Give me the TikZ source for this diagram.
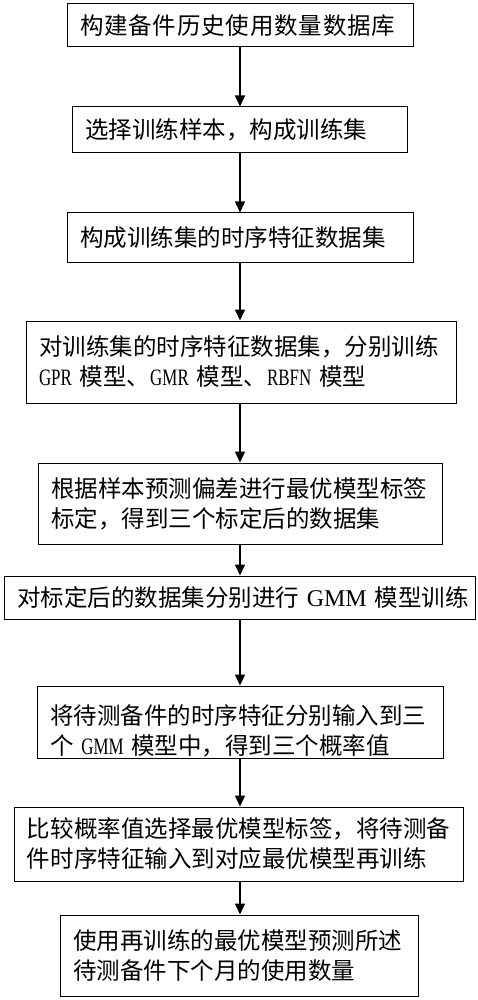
\documentclass[tikz,border=0pt]{standalone}
\usepackage{fontspec}
\setmainfont{Liberation Serif}
\newfontfamily\cjk{Noto Sans CJK SC}
\usetikzlibrary{arrows.meta}
\newcommand\lat[1]{{\rmfamily\fontsize{23.5}{30}\selectfont\scalebox{0.72}[1]{#1}}}
\newcommand\latw[1]{{\rmfamily\fontsize{24}{30}\selectfont #1}}
\begin{document}
\begin{tikzpicture}[x=1pt,y=-1pt,
  box/.style={draw, line width=1pt, inner xsep=13pt, inner ysep=0pt, align=left,
    font=\cjk\fontsize{23.5}{30}\selectfont},
  arr/.style={-{Triangle[width=10pt,length=11pt]}, line width=1.5pt}]
\useasboundingbox (0,0) rectangle (477,1000);
\node[box, text width=320pt, minimum height=43pt] (b1) at (240,25.5)
  {\mbox{\addfontfeature{LetterSpace=3.5}构建备件历史使用数量数据库}};
\node[box, text width=309pt, minimum height=46pt] (b2) at (239.5,130)
  {\mbox{选择训练样本，构成训练集}};
\node[box, text width=320pt, minimum height=49pt] (b3) at (240,237.5)
  {\mbox{构成训练集的时序特征数据集}};
\node[box, text width=404pt, minimum height=82pt] (b4) at (241,362)
  {\mbox{对训练集的时序特征数据集，分别训练}\\\mbox{\lat{GPR} 模型、\lat{GMR} 模型、\lat{RBFN} 模型}};
\node[box, text width=378pt, minimum height=81pt] (b5) at (240,503.5)
  {\mbox{根据样本预测偏差进行最优模型标签}\\\mbox{标定，得到三个标定后的数据集}};
\node[box, text width=445pt, minimum height=43pt] (b6) at (239.5,597.5)
  {\mbox{对标定后的数据集分别进行 \latw{GMM} 模型训练}};
\node[box, text width=380pt, minimum height=72pt, text depth=14pt] (b7) at (240,722)
  {\mbox{将待测备件的时序特征分别输入到三}\\\mbox{个 \lat{GMM} 模型中，得到三个概率值}};
\node[box, text width=423pt, minimum height=74pt] (b8) at (238.5,844)
  {\mbox{比较概率值选择最优模型标签，将待测备}\\\mbox{件时序特征输入到对应最优模型再训练}};
\node[box, text width=332pt, minimum height=81pt] (b9) at (239,955.5)
  {\mbox{使用再训练的最优模型预测所述}\\\mbox{待测备件下个月的使用数量}};
\foreach \a/\b in {b1/b2,b2/b3,b3/b4,b4/b5,b5/b6,b6/b7,b7/b8,b8/b9}
  \draw[arr] (\a.south -| 240,0) -- (\b.north -| 240,0);
\end{tikzpicture}
\end{document}
